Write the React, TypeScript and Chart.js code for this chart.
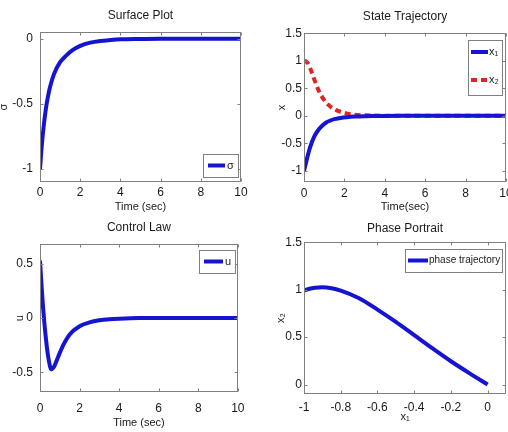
import React, { useEffect, useRef } from "react";
import { Chart, registerables } from "chart.js";

Chart.register(...registerables);

// ---------- data ----------
const sigmaTime = [0, 0.1, 0.2, 0.3, 0.4, 0.5, 0.7, 1, 1.3, 1.6, 2, 2.5, 3, 3.5, 4, 5, 6, 7, 8, 9, 10];
const sigmaValues = [-1, -0.8, -0.65, -0.53, -0.44, -0.37, -0.27, -0.18, -0.13, -0.09, -0.055, -0.03, -0.017, -0.01, -0.005, -0.002, 0, 0, 0, 0, 0];

const stateTime = [0, 0.1, 0.2, 0.3, 0.5, 0.7, 0.9, 1.1, 1.3, 1.5, 1.8, 2.1, 2.5, 3, 3.5, 4, 5, 6, 7, 8, 9, 10];
const x1Values = [-1, -0.85, -0.7, -0.57, -0.38, -0.26, -0.18, -0.12, -0.085, -0.06, -0.04, -0.025, -0.013, -0.006, -0.003, -0.001, 0, 0, 0, 0, 0, 0];
const x2Values = [1, 0.99, 0.95, 0.87, 0.67, 0.48, 0.34, 0.24, 0.17, 0.12, 0.075, 0.045, 0.022, 0.01, 0.005, 0.002, 0, 0, 0, 0, 0, 0];

const controlTime = [0, 0.05, 0.1, 0.15, 0.2, 0.3, 0.4, 0.5, 0.55, 0.6, 0.7, 0.8, 1, 1.2, 1.5, 2, 2.5, 3, 3.5, 4, 5, 6, 8, 10];
const controlValues = [0.53, 0.38, 0.24, 0.11, 0.0, -0.19, -0.34, -0.44, -0.47, -0.47, -0.45, -0.41, -0.32, -0.24, -0.15, -0.075, -0.04, -0.02, -0.01, -0.005, 0, 0, 0, 0];

const phaseX1 = [-1, -0.97, -0.94, -0.9, -0.85, -0.8, -0.7, -0.6, -0.5, -0.4, -0.3, -0.2, -0.1, 0];
const phaseX2 = [0.99, 1.01, 1.02, 1.025, 1.015, 0.99, 0.91, 0.79, 0.66, 0.52, 0.38, 0.245, 0.12, 0];

const timeTicks = [0, 2, 4, 6, 8, 10];
const sigmaTicks = [-1, -0.5, 0];
const stateTicks = [-1, -0.5, 0, 0.5, 1, 1.5];
const controlTicks = [-0.5, 0, 0.5];
const phaseXTicks = [-1, -0.8, -0.6, -0.4, -0.2, 0];
const phaseYTicks = [0, 0.5, 1, 1.5];

// ---------- styles ----------
const NARROW = '"Liberation Sans Narrow", "Arial Narrow", "Liberation Sans", Arial, sans-serif';
const BLUE = "#1414d2";
const RED = "#e02424";
const AXIS = "#808080";
const TEXT = "#1a1a1a";

const zip = (xs: number[], ys: number[]) => xs.map((x, i) => ({ x, y: ys[i] }));

const boxPlugin = {
  id: "matlabBox",
  afterDatasetsDraw(chart: any) {
    const { ctx, chartArea: a, scales } = chart;
    const L = Math.round(a.left) + 0.5;
    const R = Math.round(a.right) - 0.5;
    const T = Math.round(a.top) + 0.5;
    const B = Math.round(a.bottom) - 0.5;
    ctx.save();
    ctx.strokeStyle = AXIS;
    ctx.lineWidth = 1;
    ctx.strokeRect(L, T, R - L, B - T);
    const tl = 3;
    ctx.beginPath();
    scales.x.ticks.forEach((t: any) => {
      const px = Math.round(scales.x.getPixelForValue(t.value)) + 0.5;
      ctx.moveTo(px, B);
      ctx.lineTo(px, B - tl);
      ctx.moveTo(px, T);
      ctx.lineTo(px, T + tl);
    });
    scales.y.ticks.forEach((t: any) => {
      const py = Math.round(scales.y.getPixelForValue(t.value)) + 0.5;
      ctx.moveTo(L, py);
      ctx.lineTo(L + tl, py);
      ctx.moveTo(R, py);
      ctx.lineTo(R - tl, py);
    });
    ctx.stroke();
    ctx.restore();
  },
};

const legendPlugin = {
  id: "boxLegend",
  afterDraw(chart: any, _args: any, opts: any) {
    if (!opts || !opts.show) return;
    const { ctx, chartArea: a } = chart;
    const items = chart.data.datasets;
    ctx.save();
    ctx.font = `${opts.fontSize}px ${NARROW}`;
    const textW = Math.max(...items.map((d: any) => ctx.measureText(d.label).width));
    const w = Math.round(opts.padL + opts.sample + opts.gap + textW + opts.padR);
    const h = opts.height;
    const x = Math.round(a.right - opts.marginX - w);
    const y = Math.round(opts.anchor === "bottom" ? a.bottom - opts.marginY - h : a.top + opts.marginY);
    ctx.fillStyle = "#ffffff";
    ctx.fillRect(x, y, w, h);
    ctx.strokeStyle = AXIS;
    ctx.lineWidth = 1;
    ctx.strokeRect(x + 0.5, y + 0.5, w, h);
    items.forEach((d: any, i: number) => {
      const cy = y + opts.firstRow + i * opts.rowGap;
      ctx.strokeStyle = d.borderColor;
      ctx.lineWidth = d.borderWidth;
      ctx.setLineDash(d.borderDash || []);
      ctx.beginPath();
      ctx.moveTo(x + opts.padL, cy);
      ctx.lineTo(x + opts.padL + opts.sample, cy);
      ctx.stroke();
      ctx.setLineDash([]);
      ctx.fillStyle = TEXT;
      ctx.textBaseline = "middle";
      ctx.textAlign = "left";
      ctx.fillText(d.label, x + opts.padL + opts.sample + opts.gap, cy);
    });
    ctx.restore();
  },
};

type PanelSpec = {
  datasets: any[];
  xMin: number; xMax: number; yMin: number; yMax: number;
  xTicks: number[]; yTicks: number[];
  title: string; titlePadTop: number; titlePadBottom: number;
  xTitle: string; xTitlePadBottom: number;
  yTitle: string; yTitlePadTop: number;
  yAxisWidth: number; xAxisHeight: number; padRight: number;
  yTickPad: number; xTickPad: number;
  legend: any;
};

function makeConfig(s: PanelSpec): any {
  const tickFont = { family: NARROW, size: 12 };
  return {
    type: "line",
    data: { datasets: s.datasets },
    plugins: [boxPlugin, legendPlugin],
    options: {
      animation: false,
      responsive: false,
      events: [],
      layout: { padding: { left: 0, right: s.padRight, top: 0, bottom: 0 } },
      elements: { point: { radius: 0 } },
      plugins: {
        legend: { display: false },
        tooltip: { enabled: false },
        title: {
          display: true,
          text: s.title,
          fullSize: false,
          color: TEXT,
          font: { family: NARROW, size: 12, weight: "normal", lineHeight: 1.2 },
          padding: { top: s.titlePadTop, bottom: s.titlePadBottom },
        },
        boxLegend: s.legend,
      },
      scales: {
        x: {
          type: "linear",
          min: s.xMin,
          max: s.xMax,
          grid: { display: false, drawTicks: false },
          border: { display: false },
          afterBuildTicks: (scale: any) => {
            scale.ticks = s.xTicks.map((v) => ({ value: v }));
          },
          afterFit: (scale: any) => {
            scale.height = s.xAxisHeight;
          },
          ticks: {
            autoSkip: false,
            maxRotation: 0,
            padding: s.xTickPad,
            color: TEXT,
            font: tickFont,
            callback: (v: any) => String(v),
          },
          title: {
            display: true,
            text: s.xTitle,
            color: TEXT,
            font: { family: NARROW, size: 11, lineHeight: 1.2 },
            padding: { top: 0, bottom: s.xTitlePadBottom },
          },
        },
        y: {
          type: "linear",
          min: s.yMin,
          max: s.yMax,
          grid: { display: false, drawTicks: false },
          border: { display: false },
          afterBuildTicks: (scale: any) => {
            scale.ticks = s.yTicks.map((v) => ({ value: v }));
          },
          afterFit: (scale: any) => {
            scale.width = s.yAxisWidth;
          },
          ticks: {
            autoSkip: false,
            padding: s.yTickPad,
            color: TEXT,
            font: tickFont,
            callback: (v: any) => String(v),
          },
          title: {
            display: true,
            text: s.yTitle,
            color: TEXT,
            font: { family: NARROW, size: 11, lineHeight: 1.2 },
            padding: { top: s.yTitlePadTop, bottom: 0 },
          },
        },
      },
    },
  };
}

function Panel({ left, top, width, height, spec }: { left: number; top: number; width: number; height: number; spec: PanelSpec }) {
  const ref = useRef<HTMLCanvasElement | null>(null);
  useEffect(() => {
    if (!ref.current) return;
    const chart = new Chart(ref.current, makeConfig(spec));
    return () => chart.destroy();
  }, []);
  return (
    <canvas
      ref={ref}
      width={width}
      height={height}
      style={{ position: "absolute", left, top, width, height, display: "block" }}
    />
  );
}

const lineStyle = {
  borderWidth: 4,
  pointRadius: 0,
  fill: false,
  cubicInterpolationMode: "monotone",
};

const singleLegend = (marginY: number, anchor: string, sample: number) => ({
  show: true,
  anchor,
  marginX: 3,
  marginY,
  padL: 5,
  sample,
  gap: 2,
  padR: 4,
  height: 23,
  firstRow: 11.5,
  rowGap: 0,
  fontSize: 11,
});

const surfaceSpec: PanelSpec = {
  datasets: [{ ...lineStyle, label: "σ", data: zip(sigmaTime, sigmaValues), borderColor: BLUE }],
  xMin: 0, xMax: 10, yMin: -1.1, yMax: 0.05,
  xTicks: timeTicks, yTicks: sigmaTicks,
  title: "Surface Plot", titlePadTop: 8.4, titlePadBottom: 9.4,
  xTitle: "Time (sec)", xTitlePadBottom: 2,
  yTitle: "σ", yTitlePadTop: -3,
  yAxisWidth: 40, xAxisHeight: 34, padRight: 13,
  yTickPad: 7, xTickPad: 3.5,
  legend: singleLegend(5, "bottom", 17),
};

const stateSpec: PanelSpec = {
  datasets: [
    { ...lineStyle, label: "x₁", data: zip(stateTime, x1Values), borderColor: BLUE },
    { ...lineStyle, label: "x₂", data: zip(stateTime, x2Values), borderColor: RED, borderWidth: 4, borderDash: [6, 4] },
  ],
  xMin: 0, xMax: 10, yMin: -1.2, yMax: 1.5,
  xTicks: timeTicks, yTicks: stateTicks,
  title: "State Trajectory", titlePadTop: 9.4, titlePadBottom: 9.4,
  xTitle: "Time(sec)", xTitlePadBottom: 2,
  yTitle: "x", yTitlePadTop: 21,
  yAxisWidth: 50, xAxisHeight: 34, padRight: 28,
  yTickPad: 2, xTickPad: 4,
  legend: {
    show: true, anchor: "top", marginX: 4, marginY: 7,
    padL: 3, sample: 17, gap: 1, padR: 3,
    height: 55, firstRow: 12, rowGap: 28, fontSize: 11,
  },
};

const controlSpec: PanelSpec = {
  datasets: [{ ...lineStyle, label: "u", data: zip(controlTime, controlValues), borderColor: BLUE }],
  xMin: 0, xMax: 10, yMin: -0.68, yMax: 0.68,
  xTicks: timeTicks, yTicks: controlTicks,
  title: "Control Law", titlePadTop: 4.4, titlePadBottom: 9.4,
  xTitle: "Time (sec)", xTitlePadBottom: 2.5,
  yTitle: "u", yTitlePadTop: 13,
  yAxisWidth: 40, xAxisHeight: 40, padRight: 13,
  yTickPad: 7, xTickPad: 9.5,
  legend: singleLegend(6, "top", 19),
};

const phaseSpec: PanelSpec = {
  datasets: [{ ...lineStyle, label: "phase trajectory", data: zip(phaseX1, phaseX2), borderColor: BLUE }],
  xMin: -1, xMax: 0.1, yMin: -0.1, yMax: 1.5,
  xTicks: phaseXTicks, yTicks: phaseYTicks,
  title: "Phase Portrait", titlePadTop: 5.4, titlePadBottom: 6.4,
  xTitle: "x₁", xTitlePadBottom: 8.5,
  yTitle: "x₂", yTitlePadTop: 20,
  yAxisWidth: 50, xAxisHeight: 38, padRight: 28,
  yTickPad: 2, xTickPad: 6,
  legend: {
    show: true, anchor: "top", marginX: 4, marginY: 7,
    padL: 3, sample: 20, gap: 1, padR: 2,
    height: 23, firstRow: 11.5, rowGap: 0, fontSize: 10,
  },
};

export default function App() {
  return (
    <div
      style={{
        position: "absolute",
        left: 0,
        top: 0,
        width: 508,
        height: 432,
        overflow: "hidden",
        background: "#ffffff",
      }}
    >
      <Panel left={0} top={0} width={254} height={216} spec={surfaceSpec} />
      <Panel left={254} top={0} width={280} height={216} spec={stateSpec} />
      <Panel left={0} top={216} width={254} height={216} spec={controlSpec} />
      <Panel left={254} top={216} width={280} height={216} spec={phaseSpec} />
    </div>
  );
}
